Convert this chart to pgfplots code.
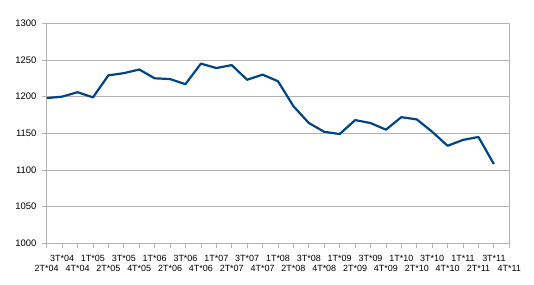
\documentclass[border=0pt]{standalone}
\usepackage{fontspec}
\setmainfont{Liberation Sans}
\usepackage{pgfplots}
\pgfplotsset{compat=1.18}
\definecolor{series}{RGB}{0,69,134}
\definecolor{gridgray}{RGB}{179,179,179}
\begin{document}
\begin{tikzpicture}
\useasboundingbox (-46.7bp,-41.7bp) rectangle (487.3bp,243.3bp);
\begin{axis}[
  at={(0,0)}, anchor=south west,
  scale only axis, width=462.6bp, height=220bp,
  xmin=0, xmax=30, ymin=1000, ymax=1300,
  ytick={1000,1050,...,1300},
  xtick={1,3,...,29},
  xticklabels={3T*04,1T*05,3T*05,1T*06,3T*06,1T*07,3T*07,1T*08,3T*08,1T*09,3T*09,1T*10,3T*10,1T*11,3T*11},
  extra x ticks={0,2,...,30},
  extra x tick labels={2T*04,4T*04,2T*05,4T*05,2T*06,4T*06,2T*07,4T*07,2T*08,4T*08,2T*09,4T*09,2T*10,4T*10,2T*11,4T*11},
  extra x tick style={xticklabel style={yshift=-10bp}},
  xtick pos=bottom, ytick pos=left,
  tick align=outside, major tick length=4.5bp,
  ymajorgrids,
  axis line style={gridgray, line width=0.8bp},
  major grid style={gridgray, line width=0.8bp},
  tick style={gridgray, line width=0.8bp},
  /pgf/number format/assume math mode=true,
  /pgf/number format/1000 sep={},
  xticklabel style={font=\fontsize{9}{10}\selectfont, inner sep=0pt, anchor=north, yshift=-7bp},
  yticklabel style={font=\fontsize{9.5}{10}\selectfont, inner sep=0pt, anchor=east, xshift=-5.5bp},
]
\addplot[series, line width=2.2bp, line join=round, mark=none] coordinates {
(0,1198) (1,1200) (2,1206) (3,1199) (4,1229) (5,1232) (6,1237) (7,1225)
(8,1224) (9,1217) (10,1245) (11,1239) (12,1243) (13,1223) (14,1230)
(15,1221) (16,1187) (17,1164) (18,1152) (19,1149) (20,1168) (21,1164)
(22,1155) (23,1172) (24,1169) (25,1152) (26,1133) (27,1141) (28,1145)
(29,1108)
};
\end{axis}
\end{tikzpicture}
\end{document}
